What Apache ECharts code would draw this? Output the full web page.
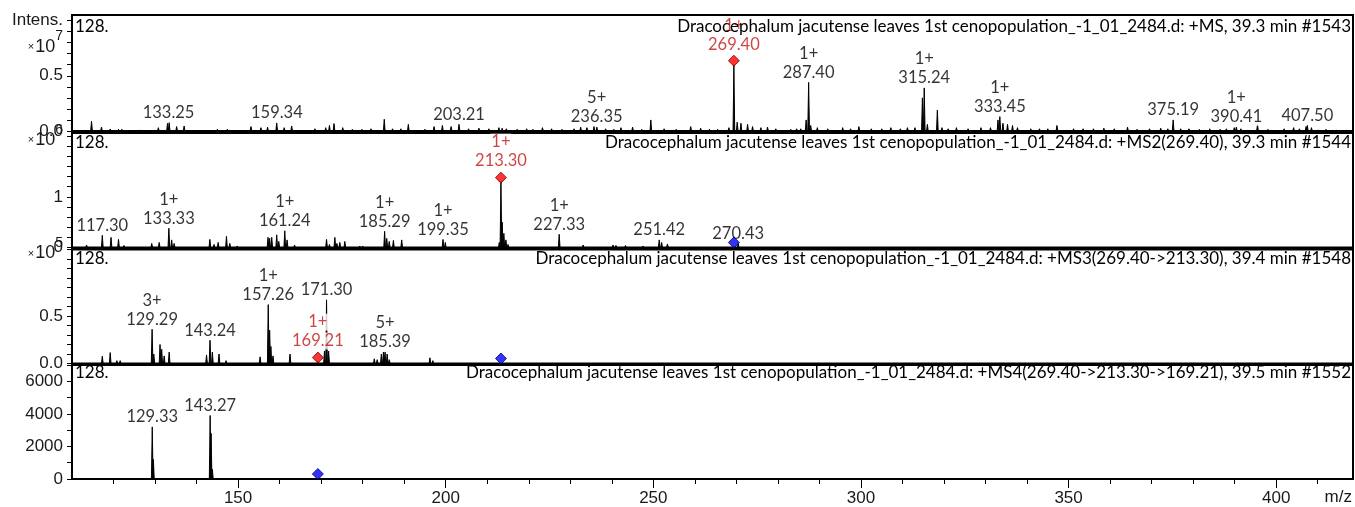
<!DOCTYPE html>
<html><head><meta charset="utf-8">
<script src="https://cdn.jsdelivr.net/npm/echarts@6/dist/echarts.min.js"></script>
<style>html,body{margin:0;padding:0;background:#fff}#c{width:1355px;height:507px}</style>
</head><body><div id="c"></div>
<script>
// ---------- data ----------
const xMin = 110, xMax = 418.5;
const xMajorTicks = [150, 200, 250, 300, 350, 400];
const xMinorTicks = [120,130,140,150,160,170,180,190,200,210,220,230,240,250,260,270,280,290,300,310,320,330,340,350,360,370,380,390,400,410];

const panelTitles = [
  'Dracocephalum jacutense leaves 1st cenopopulation_-1_01_2484.d: +MS, 39.3 min #1543',
  'Dracocephalum jacutense leaves 1st cenopopulation_-1_01_2484.d: +MS2(269.40), 39.3 min #1544',
  'Dracocephalum jacutense leaves 1st cenopopulation_-1_01_2484.d: +MS3(269.40->213.30), 39.4 min #1548',
  'Dracocephalum jacutense leaves 1st cenopopulation_-1_01_2484.d: +MS4(269.40->213.30->169.21), 39.5 min #1552'
];
const panelTag = '128.';

// MS (x1e7)
const ms1Peaks = [[114.7,0.088],[117.1,0.036],[119.2,0.018],[121.2,0.015],[122.0,0.015],[126.5,0.01],[130.8,0.03],[133.0,0.07],[133.4,0.075],[135.2,0.04],[137.0,0.045],[145.0,0.015],[147.4,0.015],[153.1,0.04],[155.5,0.03],[157.1,0.035],[159.3,0.073],[161.1,0.03],[162.9,0.045],[168.5,0.02],[171.1,0.03],[172.0,0.05],[173.1,0.067],[175.2,0.03],[177.5,0.015],[179.8,0.015],[182.0,0.02],[185.2,0.106],[187.2,0.02],[189.2,0.02],[191.0,0.06],[195.0,0.015],[197.2,0.04],[199.2,0.05],[201.3,0.04],[203.2,0.06],[205.5,0.02],[208.0,0.025],[210.4,0.02],[212.8,0.03],[213.6,0.025],[214.6,0.02],[217.2,0.015],[219.5,0.02],[221.0,0.015],[223.3,0.03],[225.5,0.02],[228.0,0.015],[230.9,0.02],[232.5,0.035],[234.0,0.03],[235.7,0.04],[236.4,0.035],[238.5,0.02],[240.5,0.015],[242.2,0.03],[245.0,0.035],[247.2,0.015],[249.4,0.1],[252.6,0.02],[255.5,0.015],[259.0,0.04],[261.4,0.025],[263.5,0.015],[265.5,0.015],[268.2,0.03],[269.4,0.6],[270.2,0.08],[271.1,0.07],[272.7,0.06],[273.9,0.04],[275.9,0.03],[277.5,0.035],[279.5,0.02],[283.1,0.015],[284.5,0.02],[285.5,0.02],[286.8,0.1],[287.4,0.44],[287.9,0.05],[289.5,0.03],[292.0,0.02],[295.6,0.03],[297.5,0.02],[299.5,0.04],[302.5,0.02],[305.0,0.02],[307.2,0.03],[309.5,0.02],[311.2,0.03],[313.0,0.03],[314.8,0.3],[315.24,0.39],[316.0,0.06],[318.4,0.19],[319.5,0.03],[321.0,0.02],[323.0,0.03],[325.8,0.02],[328.9,0.03],[331.2,0.03],[333.0,0.1],[333.45,0.13],[334.2,0.07],[335.3,0.06],[336.5,0.05],[337.7,0.03],[340.9,0.02],[343.0,0.02],[345.0,0.02],[347.2,0.05],[351.2,0.02],[353.5,0.02],[356.0,0.02],[358.5,0.025],[361.0,0.02],[364.2,0.035],[366.5,0.015],[369.5,0.02],[372.2,0.025],[373.9,0.02],[375.19,0.1],[377.0,0.02],[379.0,0.02],[381.5,0.015],[384.0,0.02],[386.5,0.015],[388.0,0.02],[389.9,0.03],[390.41,0.035],[391.5,0.02],[395.5,0.06],[398.0,0.015],[401.9,0.02],[404.2,0.03],[405.6,0.02],[407.2,0.04],[407.5,0.05],[408.5,0.03],[410.2,0.01],[412.0,0.015],[414.5,0.01],[417.0,0.01]];
const ms1Labels = [[133.25,0.075,''],[159.34,0.073,''],[203.21,0.06,''],[236.35,0.04,'5+'],[287.40,0.44,'1+'],[315.24,0.39,'1+'],[333.45,0.13,'1+'],[375.19,0.1,''],[390.41,0.035,'1+'],[407.50,0.05,'']];
const ms1Precursor = [[269.40,0.6,'1+']];
const ms1Isolation = [];

// MS2 (x1e6)
const ms2Peaks = [[113.5,0.05],[117.3,0.24],[119.4,0.2],[121.2,0.16],[122.5,0.04],[129.2,0.08],[131.0,0.1],[133.33,0.38],[134.0,0.15],[134.6,0.08],[143.2,0.16],[144.2,0.06],[145.2,0.1],[147.2,0.22],[148.0,0.08],[149.8,0.03],[157.2,0.2],[157.6,0.18],[158.1,0.2],[159.3,0.25],[159.8,0.12],[161.24,0.33],[161.8,0.15],[163.6,0.05],[171.3,0.16],[172.0,0.06],[173.3,0.2],[173.8,0.08],[174.5,0.1],[175.7,0.12],[179.3,0.03],[180.0,0.03],[185.29,0.32],[185.8,0.18],[186.4,0.12],[187.4,0.14],[189.4,0.15],[199.35,0.16],[199.9,0.1],[212.9,0.1],[213.3,1.3],[213.6,0.5],[214.0,0.28],[214.5,0.15],[215.0,0.06],[227.33,0.26],[233.1,0.05],[240.3,0.05],[241.0,0.04],[243.3,0.04],[247.5,0.03],[251.42,0.15],[252.0,0.1],[253.4,0.07],[270.43,0.08]];
const ms2Labels = [[117.30,0.24,''],[133.33,0.38,'1+'],[161.24,0.33,'1+'],[185.29,0.32,'1+'],[199.35,0.16,'1+'],[227.33,0.26,'1+'],[251.42,0.15,''],[270.43,0.08,'']];
const ms2Precursor = [[213.30,1.3,'1+']];
const ms2Isolation = [[269.40,0]];

// MS3 (x1e5)
const ms3Peaks = [[117.3,0.077],[119.2,0.115],[120.8,0.03],[121.6,0.03],[129.29,0.36],[129.7,0.1],[131.2,0.2],[131.6,0.15],[132.2,0.08],[133.4,0.12],[142.4,0.09],[143.24,0.245],[143.8,0.12],[145.4,0.1],[147.1,0.03],[155.3,0.07],[157.26,0.62],[157.6,0.35],[157.9,0.18],[158.4,0.08],[162.5,0.1],[169.21,0.02],[170.8,0.13],[171.3,0.67],[171.8,0.13],[182.8,0.05],[183.5,0.04],[184.5,0.1],[185.0,0.12],[185.39,0.12],[185.9,0.1],[186.4,0.04],[196.2,0.06],[196.9,0.03]];
const ms3Labels = [[129.29,0.36,'3+'],[143.24,0.245,''],[157.26,0.62,'1+'],[171.30,0.67,''],[185.39,0.12,'5+']];
const ms3Precursor = [[169.21,0.02,'1+']];
const ms3Isolation = [[213.30,0]];

// MS4 (x1)
const ms4Peaks = [[129.33,3200],[129.6,1200],[143.27,3900],[143.5,2800],[143.8,600]];
const ms4Labels = [[129.33,3200,''],[143.27,3900,'']];
const ms4Precursor = [];
const ms4Isolation = [[169.21,0]];

// y axes
const yMax = [1.05, 2.26, 1.2, 7000];
const yTicks = [
  [0,0.1,0.2,0.3,0.4,0.5,0.6,0.7,0.8,0.9,1.0],
  [0,0.2,0.4,0.6,0.8,1.0,1.2,1.4,1.6,1.8,2.0,2.2],
  [0,0.1,0.2,0.3,0.4,0.5,0.6,0.7,0.8,0.9,1.0,1.1,1.2],
  [0,1000,2000,3000,4000,5000,6000,7000]
];
const yLabelValues = [[0,0.5,0.8,1.0],[0,1,2.2],[0,0.5,1.2],[0,2000,4000,6000]];
const yLabelText = [
  {'0':'0.0','0.5':'0.5','0.8':'{x|×}{n|10}{e|7}','1':'Intens.'},
  {'0':'0','1':'1','2.2':'{x|×}{n|10}{e|6}'},
  {'0':'0.0','0.5':'0.5','1.2':'{x|×}{n|10}{e|5}'},
  {'0':'0','2000':'2000','4000':'4000','6000':'6000'}
];

// ---------- layout ----------
const grids = [
  {left:72, right:2, top:15, height:116},
  {left:72, right:2, top:133, height:114.5},
  {left:72, right:2, top:249.5, height:114},
  {left:72, right:2, top:365, height:115}
];
const titleTops = [18, 134, 250, 364];

const allPeaks = [ms1Peaks, ms2Peaks, ms3Peaks, ms4Peaks];
const allLabels = [ms1Labels, ms2Labels, ms3Labels, ms4Labels];
const allPrec = [ms1Precursor, ms2Precursor, ms3Precursor, ms4Precursor];
const allIso = [ms1Isolation, ms2Isolation, ms3Isolation, ms4Isolation];

const annFont = 'Lato';
const tickFont = '"Liberation Sans", Arial, sans-serif';
const annSize = 16.5;

function labelRich(color){
  const s = {fontFamily:annFont, fontSize:annSize, lineHeight:19, color:color, backgroundColor:'#fff', padding:[0,1,0,1]};
  return {c:s, v:s};
}
function fmtLabel(p){
  const d = p.data;
  return (d[2] ? '{c|' + d[2] + '}\n' : '') + '{v|' + d[0].toFixed(2) + '}';
}

const chart = echarts.init(document.getElementById('c'), null, {renderer:'canvas'});

const xAxes = [], yAxes = [], series = [], titles = [];
const rich = {
  x:{fontSize:11, fontFamily:tickFont, color:'#1a1a1a', padding:[8,1,0,0]},
  n:{fontSize:18, fontFamily:tickFont, color:'#1a1a1a', padding:[8,0,0,0]},
  e:{fontSize:14, fontFamily:tickFont, color:'#1a1a1a', verticalAlign:'top'}
};

for (let i = 0; i < 4; i++) {
  xAxes.push({
    type:'value', gridIndex:i, min:xMin, max:xMax,
    axisLine:{show:true, onZero:false, lineStyle:{color:'#000', width:2}},
    axisTick: i === 3 ? {show:true, length:5, customValues:xMinorTicks, lineStyle:{color:'#000', width:1}} : {show:false},
    axisLabel:{show:false}, splitLine:{show:false}
  });
  yAxes.push({
    type:'value', gridIndex:i, min:0, max:yMax[i],
    axisLine:{show:true, lineStyle:{color:'#000', width:2}},
    axisTick:{show:true, length:5, customValues:yTicks[i], lineStyle:{color:'#000', width:1}},
    axisLabel:{show:true, customValues:yLabelValues[i], margin:9, fontSize:17, fontFamily:tickFont, color:'#1a1a1a',
      rich: rich,
      formatter: (function(map){ return function(v){ const k = String(Math.round(v*1000)/1000); return map[k] !== undefined ? map[k] : ''; }; })(yLabelText[i])},
    splitLine:{show:false}
  });
  titles.push({text:panelTitles[i], right:4, top:titleTops[i], padding:0,
    textStyle:{fontFamily:annFont, fontSize:17, fontWeight:'normal', color:'#000'}});
  titles.push({text:panelTag, left:75, top:titleTops[i], padding:0,
    textStyle:{fontFamily:annFont, fontSize:17, fontWeight:'normal', color:'#000'}});

  series.push({
    type:'custom', xAxisIndex:i, yAxisIndex:i, z:2, silent:true,
    data: allPeaks[i],
    renderItem: function(params, api){
      const x = api.value(0), y = api.value(1), w = 0.2;
      const p0 = api.coord([x - w, 0]), p1 = api.coord([x, y]), p2 = api.coord([x + w, 0]);
      return {type:'polygon', shape:{points:[p0, p1, p2]}, style:{fill:'#000', stroke:'#000', lineWidth:1}};
    }
  });
  series.push({
    type:'scatter', xAxisIndex:i, yAxisIndex:i, z:3, silent:true,
    symbol:'rect', symbolSize:1, itemStyle:{color:'rgba(0,0,0,0)'},
    data: allLabels[i],
    label:{show:true, position:'top', distance:0, rich:labelRich('#000'), formatter: fmtLabel}
  });
  series.push({
    type:'scatter', xAxisIndex:i, yAxisIndex:i, z:4, silent:true,
    symbol:'diamond', symbolSize:11, symbolOffset:[0,-4],
    itemStyle:{color:'#ff0000', borderColor:'#7a0000', borderWidth:1},
    data: allPrec[i],
    label:{show:true, position:'top', distance:1, rich:labelRich('#c01818'), formatter: fmtLabel}
  });
  series.push({
    type:'scatter', xAxisIndex:i, yAxisIndex:i, z:5, silent:true,
    symbol:'diamond', symbolSize:11, symbolOffset:[0,-5],
    itemStyle:{color:'#0000ff', borderColor:'#00005a', borderWidth:1},
    data: allIso[i]
  });
}
// major x ticks + labels on bottom panel
xAxes.push({
  type:'value', gridIndex:3, min:xMin, max:xMax, position:'bottom',
  axisLine:{show:false},
  axisTick:{show:true, length:9, customValues:xMajorTicks, lineStyle:{color:'#000', width:1}},
  axisLabel:{show:true, customValues:xMajorTicks, margin:11, fontSize:17, fontFamily:tickFont, color:'#1a1a1a'},
  splitLine:{show:false}
});
titles.push({text:'m/z', right:3, top:489, padding:0, textStyle:{fontFamily:tickFont, fontSize:17, fontWeight:'normal', color:'#1a1a1a'}});

const grid = grids.map(g => Object.assign({show:true, borderColor:'#000', borderWidth:2, containLabel:false}, g));

chart.setOption({
  animation:false,
  backgroundColor:'#fff',
  title: titles,
  grid: grid,
  xAxis: xAxes,
  yAxis: yAxes,
  series: series
});
</script></body></html>
